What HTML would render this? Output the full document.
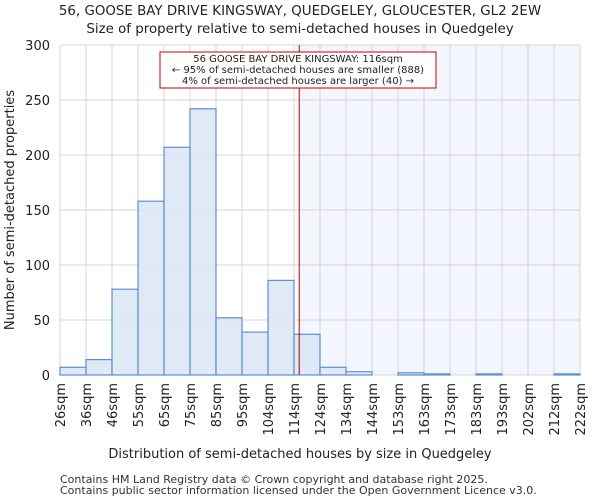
<!DOCTYPE html>
<html><head><meta charset="utf-8"><style>
body{margin:0;background:#fff;font-family:"DejaVu Sans","Liberation Sans",sans-serif;}
</style></head><body>
<svg width="600" height="500" xmlns="http://www.w3.org/2000/svg" font-family="DejaVu Sans, Liberation Sans, sans-serif">
<text x="300" y="15" font-size="13.4" text-anchor="middle" fill="#222">56, GOOSE BAY DRIVE KINGSWAY, QUEDGELEY, GLOUCESTER, GL2 2EW</text>
<text x="300" y="33" font-size="13.4" text-anchor="middle" fill="#222">Size of property relative to semi-detached houses in Quedgeley</text>
<g id="plot"></g>
<text x="300" y="458" font-size="13" text-anchor="middle" fill="#222">Distribution of semi-detached houses by size in Quedgeley</text>
<text transform="translate(14,210) rotate(-90)" font-size="13" text-anchor="middle" fill="#222">Number of semi-detached properties</text>
<text x="60" y="483" font-size="11" fill="#333">Contains HM Land Registry data © Crown copyright and database right 2025.</text>
<text x="60" y="494" font-size="11" fill="#333">Contains public sector information licensed under the Open Government Licence v3.0.</text>
</svg>
<script>
const categories=["26sqm","36sqm","46sqm","55sqm","65sqm","75sqm","85sqm","95sqm","104sqm","114sqm","124sqm","134sqm","144sqm","153sqm","163sqm","173sqm","183sqm","193sqm","202sqm","212sqm","222sqm"];
const counts=[7,14,78,158,207,242,52,39,86,37,7,3,0,2,1,0,1,0,0,1];
const yTicks=[0,50,100,150,200,250,300];
const markerValue=116;
const binStarts=[26,36,46,55,65,75,85,95,104,114,124,134,144,153,163,173,183,193,202,212,222];
const NS="http://www.w3.org/2000/svg";
const g=document.getElementById('plot');
const L=60,R=580,T=45,B=375;
const bw=(R-L)/counts.length;
const y=v=>B-(v/300)*(B-T);
const xEdge=i=>L+i*bw;
const xVal=v=>{let i=0;while(i<binStarts.length-2&&binStarts[i+1]<=v)i++;return xEdge(i)+(v-binStarts[i])/(binStarts[i+1]-binStarts[i])*bw;};
function el(t,a){const e=document.createElementNS(NS,t);for(const k in a)e.setAttribute(k,a[k]);g.appendChild(e);return e;}
const mx=xVal(markerValue);
let s=el('rect',{x:mx,y:T,width:R-mx,height:B-T,fill:'#f3f6fd'});


for(let i=0;i<categories.length;i++){let l=el('line',{x1:xEdge(i),x2:xEdge(i),y1:T,y2:B,stroke:'#d4d4d4','stroke-width':1});

}
yTicks.forEach(v=>{let l=el('line',{x1:L,x2:R,y1:y(v),y2:y(v),stroke:'#d4d4d4','stroke-width':1});


let t=el('text',{x:L-10,y:y(v)+5,'font-size':13,'text-anchor':'end',fill:'#222'});t.textContent=v;

});
counts.forEach((c,i)=>{let r=el('rect',{x:xEdge(i),y:y(c),width:bw,height:B-y(c),fill:'#dde7f5',stroke:'#5b8fd6','stroke-width':1.2,'fill-opacity':0.9});

});
categories.forEach((c,i)=>{let t=el('text',{transform:`translate(${xEdge(i)+5},${B+8}) rotate(-90)`,'font-size':13,'text-anchor':'end',fill:'#222'});t.textContent=c;

});
let ml=el('line',{x1:mx,x2:mx,y1:T,y2:B,stroke:'#aa0000','stroke-width':1});


let bx=el('rect',{x:160,y:52,width:276,height:36,fill:'#fff',stroke:'#cc0000','stroke-width':1});


["56 GOOSE BAY DRIVE KINGSWAY: 116sqm","← 95% of semi-detached houses are smaller (888)","4% of semi-detached houses are larger (40) →"].forEach((s,i)=>{let t=el('text',{x:298,y:62+i*11,'font-size':10,'text-anchor':'middle',fill:'#222'});t.textContent=s;

});
</script>
</body></html>
